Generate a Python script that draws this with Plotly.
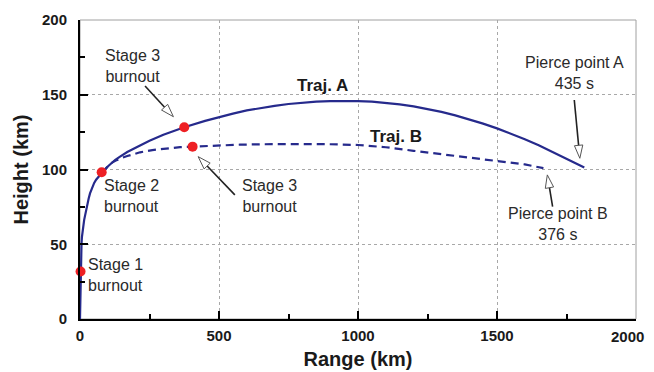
import plotly.graph_objects as go

# ---------------- data ----------------
traj_a_x = [0, 0.5, 1, 1.5, 2, 3, 4, 5.5, 7, 9.5, 12, 15, 18, 22, 27, 31, 36, 43, 51, 58, 65,
            72, 80, 95, 110, 127, 144, 170, 200, 250, 300, 375, 450, 500, 550, 600, 650,
            700, 750, 800, 850, 900, 950, 1000, 1050, 1100, 1150, 1200, 1250, 1300, 1350,
            1400, 1450, 1500, 1550, 1600, 1650, 1700, 1750, 1814]
traj_a_h = [0, 8, 15, 24, 32, 39, 45, 50.5, 55, 59.5, 63, 66.3, 69, 73.3, 77, 80.5, 84, 87.7,
            91, 93.2, 95, 96.6, 98, 101.2, 104, 106.5, 108.6, 111.7, 114.6, 119.3, 123.2,
            128.3, 132.5, 135.1, 137.4, 139.5, 141.2, 142.6, 143.8, 144.7, 145.4, 145.8, 146,
            145.8, 145.4, 144.6, 143.6, 142.2, 140.5, 138.5, 136.2, 133.6, 130.7, 127.5,
            124, 120.3, 116.2, 111.8, 107.2, 101.3]

traj_b_x = [80, 95, 110, 127, 144, 170, 216, 260, 312, 360, 405, 500, 575, 700, 815, 900,
            1000, 1050, 1100, 1200, 1300, 1400, 1500, 1600, 1667]
traj_b_h = [98, 101.2, 104, 105.8, 107.3, 109, 111.5, 113, 114.2, 114.9, 115.3, 116.1, 116.6,
            117, 117.1, 116.9, 116.4, 115.8, 114.9, 112.5, 110.2, 108, 105.8, 103.4, 100.9]

burnout_x = [2, 78, 375, 405]
burnout_h = [31.8, 98.2, 128.3, 115.3]

x_ticks = [0, 500, 1000, 1500, 2000]
x_ticktext = ["0", "500", "1000", "1500", ""]   # last label drawn separately so it is not clipped
x_last_label = "2000"
y_ticks = [0, 50, 100, 150, 200]

# text labels: (text, x, h, xanchor)
labels = [
    ("Stage 3<br>burnout", 190, 169, "center"),
    ("Stage 2<br>burnout", 79, 82.5, "left"),
    ("Stage 3<br>burnout", 680, 82.5, "center"),
    ("Stage 1<br>burnout", 21, 29.6, "left"),
    ("Pierce point A<br>435 s", 1777, 164.5, "center"),
    ("Pierce point B<br>376 s", 1719, 63.7, "center"),
]
traj_labels = [("Traj. A", 874, 156.5), ("Traj. B", 1137, 121.8)]

# arrows: (tail x, tail h, tip x, tip h)
arrows = [
    (234, 155.8, 336, 135.3),
    (557, 83, 425, 108.6),
    (1778, 146.5, 1798, 107.5),
    (1700, 75.2, 1681, 96.4),
]

# ---------------- layout geometry ----------------
# figure is placed by the page with an 8px body margin
W, H = 646, 364
ML, MR, MT, MB = 72, 18, 12, 53
XR = (0, 2000)
YR = (0, 200)
sx = (W - ML - MR) / (XR[1] - XR[0])
sy = (H - MT - MB) / (YR[1] - YR[0])

NAVY = "#262a8c"
RED = "#ee2024"
FONT = "Liberation Sans, Arial, sans-serif"

fig = go.Figure()
fig.add_trace(go.Scatter(x=traj_a_x, y=traj_a_h, mode="lines",
                         line=dict(color=NAVY, width=2.2),
                         showlegend=False, hoverinfo="skip"))
fig.add_trace(go.Scatter(x=traj_b_x, y=traj_b_h, mode="lines",
                         line=dict(color=NAVY, width=2.2, dash="8px,5px"),
                         showlegend=False, hoverinfo="skip"))
fig.add_trace(go.Scatter(x=burnout_x, y=burnout_h, mode="markers",
                         marker=dict(color=RED, size=10, line=dict(width=0)),
                         cliponaxis=False, showlegend=False, hoverinfo="skip"))

shapes = [dict(type="rect", xref="paper", yref="paper", x0=0, x1=1, y0=0, y1=1,
               line=dict(color="#a0a0a0", width=1), layer="below")]

HEAD_L, HEAD_W = 13, 4.2
for tx, th, px, ph in arrows:
    ax_, ay_ = tx * sx, th * sy
    bx_, by_ = px * sx, ph * sy
    dx, dy = bx_ - ax_, by_ - ay_
    n = (dx * dx + dy * dy) ** 0.5
    ux, uy = dx / n, dy / n
    basex, basey = bx_ - ux * HEAD_L, by_ - uy * HEAD_L
    c1 = (basex - uy * HEAD_W, basey + ux * HEAD_W)
    c2 = (basex + uy * HEAD_W, basey - ux * HEAD_W)
    shapes.append(dict(type="line", xref="x", yref="y", x0=tx, y0=th,
                       x1=basex / sx, y1=basey / sy,
                       line=dict(color="#222222", width=1.6), layer="above"))
    path = "M {},{} L {},{} L {},{} Z".format(px, ph, c1[0] / sx, c1[1] / sy, c2[0] / sx, c2[1] / sy)
    shapes.append(dict(type="path", xref="x", yref="y", path=path,
                       fillcolor="white", line=dict(color="#555555", width=1), layer="above"))

annotations = []
for txt, x, h, xa in labels:
    annotations.append(dict(text=txt, x=x, y=h, xref="x", yref="y", showarrow=False,
                            xanchor=xa, yanchor="middle", align=xa,
                            font=dict(family=FONT, size=16, color="#2a2a2a")))
for txt, x, h in traj_labels:
    annotations.append(dict(text="<b>" + txt + "</b>", x=x, y=h, xref="x", yref="y",
                            showarrow=False, xanchor="center", yanchor="middle",
                            font=dict(family=FONT, size=17, color="#1a1a1a")))
annotations.append(dict(text="<b>" + x_last_label + "</b>", x=1, y=0, xref="paper", yref="paper",
                        showarrow=False, xanchor="right", yanchor="middle", xshift=10, yshift=-17,
                        font=dict(family=FONT, size=15, color="#1a1a1a")))

axis_common = dict(
    showline=True, linecolor="black", linewidth=2,
    ticks="inside", ticklen=8, tickwidth=1.5, tickcolor="black",
    showgrid=True, gridcolor="#a8a8a8", gridwidth=1, griddash="dot",
    zeroline=False, automargin=False,
    tickfont=dict(family=FONT, size=15, color="#1a1a1a", weight="bold"),
    title_font=dict(family=FONT, size=20, color="#1a1a1a", weight="bold"),
)

fig.update_layout(
    width=W, height=H,
    margin=dict(l=ML, r=MR, t=MT, b=MB, pad=0, autoexpand=False),
    paper_bgcolor="white", plot_bgcolor="white",
    xaxis=dict(range=list(XR), tickvals=x_ticks, ticktext=x_ticktext, title_text="Range (km)",
               title_standoff=9,
               minor=dict(ticks="inside", dtick=250, ticklen=5, tickwidth=1.5, tickcolor="black",
                          showgrid=False),
               ticklabelstandoff=2, **axis_common),
    yaxis=dict(range=list(YR), tickvals=y_ticks, title_text="Height (km)", title_standoff=8,
               minor=dict(ticks="inside", dtick=25, ticklen=5, tickwidth=1.5, tickcolor="black",
                          showgrid=False),
               ticklabelstandoff=8, **axis_common),
    shapes=shapes,
    annotations=annotations,
)

fig.write_html("out.html")
